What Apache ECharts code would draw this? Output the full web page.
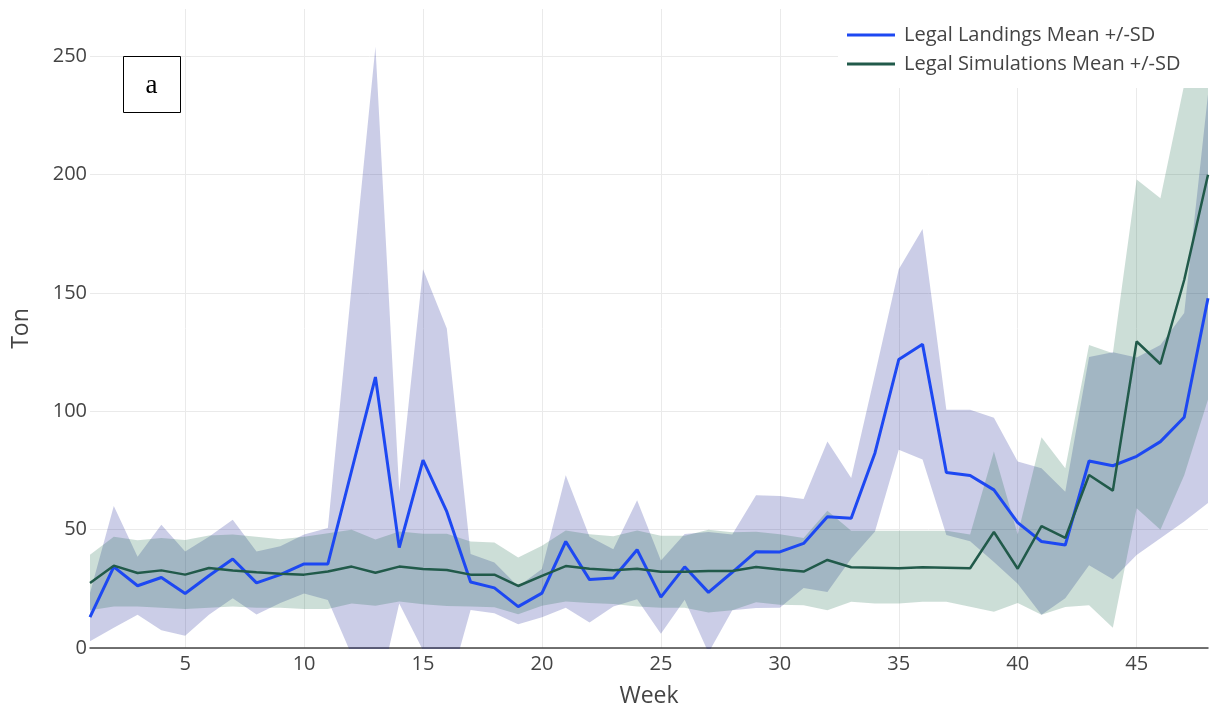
<!DOCTYPE html>
<html>
<head>
<meta charset="utf-8">
<script src="https://cdn.jsdelivr.net/npm/echarts@6/dist/echarts.min.js"></script>
<style>
  html, body { margin: 0; padding: 0; background: #fff; }
  #chart { width: 1210px; height: 716px; }
</style>
</head>
<body>
<div id="chart"></div>
<script>
// Weekly landings vs. simulations (tons), mean with a +/- SD band
const weeks = Array.from({ length: 48 }, (_, i) => i + 1);

const landMean = [13, 34.3, 26.3, 29.8, 23, 30.5, 37.6, 27.5, 31, 35.5,
  35.5, 75, 114.5, 42.4, 79.4, 57.6, 27.9, 25.4, 17.5, 23.2,
  45, 28.9, 29.6, 41.5, 21.5, 34.3, 23.5, 32, 40.7, 40.6,
  44.2, 55.5, 54.8, 82.4, 121.9, 128.3, 74.2, 72.9, 66.8, 53,
  45, 43.5, 79, 77, 81, 87.2, 97.5, 147.8];
const landUpper = [23.2, 60, 38.6, 52.1, 40.8, 47, 54.2, 40.8, 43, 48,
  50.7, 153, 254, 66, 160, 135, 39.7, 36.1, 26, 33.4,
  73, 47, 41.7, 62.4, 37, 48.2, 49, 48, 64.5, 64.2,
  63, 87.3, 71.8, 115.6, 160, 177, 100.7, 100.7, 97.3, 78.8,
  76, 66, 123, 125, 122.7, 128, 141.6, 234];
const landLower = [2.8, 8.6, 14, 7.5, 5.2, 14, 21, 14.2, 19, 23,
  20.3, -3, -25, 18.8, -1, -20, 16.1, 14.7, 10, 13,
  17, 10.8, 17.5, 20.6, 6, 20.4, -2, 16, 16.9, 17,
  25.4, 23.7, 37.8, 49.2, 83.8, 79.6, 47.7, 45.1, 36.3, 27.2,
  14, 21, 35, 29, 39.3, 46.4, 53.4, 61.3];

const simMean = [27.5, 34.8, 31.7, 32.8, 31, 33.8, 32.7, 32, 31.4, 31,
  32.3, 34.4, 31.8, 34.4, 33.4, 33, 31, 31, 26.2, 30.5,
  34.6, 33.5, 32.9, 33.5, 32.2, 32.2, 32.5, 32.5, 34.2, 33.2,
  32.3, 37.2, 34.1, 33.9, 33.7, 34.1, 33.9, 33.7, 49, 33.5,
  51.5, 46.5, 73.1, 66.5, 129.5, 120, 155.5, 200];
const simUpper = [39.4, 47, 45.5, 46.5, 45.6, 47.5, 48, 47, 46, 47,
  48.5, 50, 45.8, 49.2, 48.3, 48.3, 45, 44.6, 38.2, 43.2,
  49.6, 48.1, 47.2, 49.6, 47.4, 47.4, 50, 48.9, 49.1, 48.1,
  46.5, 58, 49.5, 49.5, 49.5, 49.5, 49.5, 48, 83, 48,
  89, 76, 128, 124.5, 198, 190, 238, 265];
const simLower = [16, 17.5, 17.5, 17, 16.5, 17, 17.5, 17, 17, 16.5,
  16.5, 18.8, 17.8, 19.6, 18.5, 17.7, 17.5, 17.2, 14.3, 17.8,
  19.6, 19, 18.6, 17.5, 17, 17, 15, 16, 19.3, 18.3,
  18.1, 16, 19.5, 18.8, 18.8, 19.5, 19.5, 17.4, 15.3, 19,
  14, 17.3, 18.1, 8.6, 59, 50, 73, 105];

const yTicks = [0, 50, 100, 150, 200, 250];

const LAND_NAME = 'Legal Landings Mean +/-SD';
const SIM_NAME = 'Legal Simulations Mean +/-SD';

const landSpread = landUpper.map((v, i) => v - landLower[i]);
const simSpread = simUpper.map((v, i) => v - simLower[i]);

const font = "'Open Sans', 'DejaVu Sans', sans-serif";

function bandBase(id, data) {
  return {
    id: id, type: 'line', data: data, stack: id, stackStrategy: 'all',
    symbol: 'none', silent: true, lineStyle: { opacity: 0 }, z: 1
  };
}
function bandFill(id, data, color) {
  return {
    id: id + '-fill', type: 'line', data: data, stack: id, stackStrategy: 'all',
    symbol: 'none', silent: true, lineStyle: { opacity: 0 },
    areaStyle: { color: color, opacity: 1 }, z: 1
  };
}

const chart = echarts.init(document.getElementById('chart'), null, { renderer: 'canvas' });

chart.setOption({
  backgroundColor: '#ffffff',
  animation: false,
  grid: { left: 90, right: 2, top: 9, bottom: 68, outerBoundsMode: 'none' },
  legend: {
    data: [LAND_NAME, SIM_NAME],
    orient: 'vertical',
    left: 838,
    top: 9,
    padding: [15, 80, 13, 9],
    backgroundColor: '#ffffff',
    itemWidth: 48,
    itemHeight: 3,
    itemGap: 7,
    icon: 'rect',
    textStyle: { color: '#444', fontSize: 20, fontFamily: font, lineHeight: 22, padding: [0, 0, 0, 4] },
    z: 10
  },
  xAxis: {
    type: 'category',
    data: weeks,
    boundaryGap: false,
    name: 'Week',
    nameLocation: 'middle',
    nameGap: 37,
    nameTextStyle: { color: '#444', fontSize: 23, fontFamily: font },
    axisLine: { show: true, onZero: false, lineStyle: { color: '#444', width: 1.5 } },
    axisTick: { show: false },
    axisLabel: {
      interval: (i, v) => Number(v) % 5 === 0,
      color: '#444', fontSize: 20, fontFamily: font, margin: 6
    },
    splitLine: {
      show: true,
      interval: (i, v) => Number(v) % 5 === 0,
      lineStyle: { color: '#eaeaea', width: 1 }
    }
  },
  yAxis: {
    type: 'value',
    min: 0,
    max: 270,
    interval: 50,
    name: 'Ton',
    nameLocation: 'middle',
    nameGap: 57,
    nameTextStyle: { color: '#444', fontSize: 23, fontFamily: font },
    axisLine: { show: false },
    axisTick: { show: false },
    axisLabel: {
      color: '#444', fontSize: 20, fontFamily: font, margin: 3,
      showMaxLabel: false,
      formatter: v => (yTicks.indexOf(v) >= 0 ? String(v) : '')
    },
    splitLine: { show: true, showMaxLine: false, lineStyle: { color: '#eaeaea', width: 1 } }
  },
  graphic: [
    {
      type: 'rect', left: 123, top: 56, z: 20,
      shape: { width: 57, height: 56 },
      style: { fill: '#ffffff', stroke: '#000000', lineWidth: 1 }
    },
    {
      type: 'text', x: 151.5, y: 86, z: 21,
      style: {
        text: 'a', fill: '#000', fontSize: 27,
        fontFamily: "'Liberation Serif', 'DejaVu Serif', serif",
        align: 'center', verticalAlign: 'middle'
      }
    }
  ],
  series: [
    bandBase('land', landLower),
    bandFill('land', landSpread, 'rgba(10, 20, 140, 0.21)'),
    bandBase('sim', simLower),
    bandFill('sim', simSpread, 'rgba(0, 90, 55, 0.2)'),
    {
      name: LAND_NAME, type: 'line', data: landMean, symbol: 'none',
      itemStyle: { color: '#1d48f2' },
      lineStyle: { color: '#1d48f2', width: 3 }, z: 3
    },
    {
      name: SIM_NAME, type: 'line', data: simMean, symbol: 'none',
      itemStyle: { color: '#215a4a' },
      lineStyle: { color: '#215a4a', width: 2.5 }, z: 4
    }
  ]
});
</script>
</body>
</html>
